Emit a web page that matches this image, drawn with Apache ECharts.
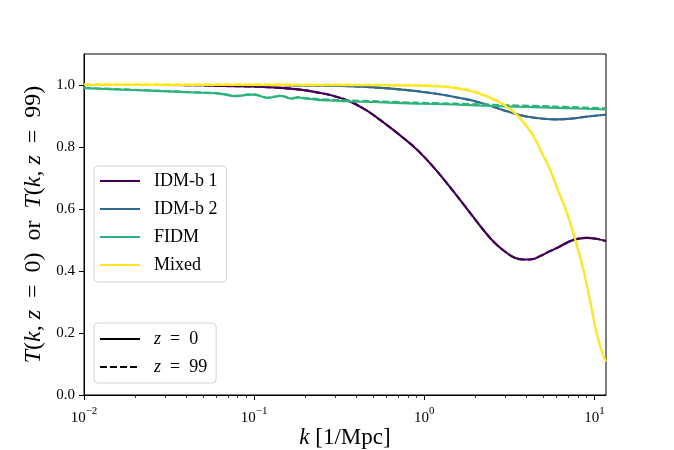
<!DOCTYPE html>
<html>
<head>
<meta charset="utf-8">
<script src="https://cdn.jsdelivr.net/npm/echarts@6/dist/echarts.min.js"></script>
<style>html,body{margin:0;padding:0;background:#fff}#c{width:674px;height:450px}</style>
</head>
<body>
<div id="c"></div>
<script>
// ---- data ----
const kIdm1 = [0.01, 0.03, 0.048, 0.066, 0.095, 0.12, 0.15, 0.186, 0.23, 0.292, 0.366, 0.458, 0.57, 0.716, 0.9, 1.13, 1.41, 1.77, 2.22, 2.6, 3.04, 3.4, 3.82, 4.3, 4.79, 5.49, 6.2, 6.88, 7.7, 9.0, 10.2, 11.7];
const tIdm1 = [1.0, 1.0, 0.999, 0.997, 0.995, 0.993, 0.990, 0.985, 0.977, 0.965, 0.947, 0.918, 0.881, 0.839, 0.793, 0.736, 0.672, 0.603, 0.533, 0.490, 0.459, 0.443, 0.437, 0.438, 0.448, 0.464, 0.478, 0.491, 0.502, 0.507, 0.504, 0.497];
const tIdm1z99 = [1.0, 1.0, 0.999, 0.997, 0.995, 0.993, 0.990, 0.985, 0.977, 0.965, 0.947, 0.918, 0.881, 0.839, 0.793, 0.736, 0.672, 0.603, 0.533, 0.490, 0.459, 0.443, 0.437, 0.438, 0.448, 0.464, 0.478, 0.491, 0.502, 0.507, 0.504, 0.497];

const kIdm2 = [0.01, 0.05, 0.15, 0.32, 0.48, 0.72, 0.94, 1.23, 1.62, 1.94, 2.44, 3.07, 3.85, 4.84, 6.08, 7.46, 9.4, 11.7];
const tIdm2 = [1.0, 1.0, 0.999, 0.997, 0.993, 0.986, 0.979, 0.970, 0.958, 0.949, 0.933, 0.915, 0.900, 0.892, 0.889, 0.892, 0.899, 0.904];
const tIdm2z99 = [1.0, 1.0, 0.999, 0.997, 0.993, 0.986, 0.979, 0.970, 0.958, 0.949, 0.933, 0.915, 0.900, 0.892, 0.889, 0.892, 0.899, 0.904];

const kFidm = [0.01, 0.015, 0.024, 0.039, 0.05, 0.06, 0.068, 0.076, 0.083, 0.09, 0.1, 0.106, 0.113, 0.12, 0.127, 0.135, 0.143, 0.15, 0.158, 0.166, 0.174, 0.182, 0.19, 0.2, 0.213, 0.234, 0.3, 0.37, 0.5, 0.9, 1.5, 2.25, 3.5, 5.5, 8, 11.7];
const tFidm = [0.990, 0.986, 0.982, 0.977, 0.975, 0.973, 0.969, 0.964, 0.965, 0.968, 0.969, 0.966, 0.961, 0.958, 0.960, 0.963, 0.965, 0.963, 0.958, 0.956, 0.958, 0.960, 0.958, 0.956, 0.955, 0.952, 0.949, 0.947, 0.945, 0.940, 0.937, 0.933, 0.930, 0.927, 0.924, 0.921];
const tFidmz99 = [0.991, 0.987, 0.983, 0.978, 0.976, 0.974, 0.970, 0.965, 0.966, 0.969, 0.970, 0.967, 0.962, 0.959, 0.961, 0.964, 0.966, 0.964, 0.959, 0.957, 0.959, 0.961, 0.959, 0.958, 0.957, 0.955, 0.952, 0.950, 0.948, 0.943, 0.940, 0.937, 0.934, 0.931, 0.928, 0.925];

const kMixed = [0.01, 0.1, 0.5, 0.9, 1.23, 1.42, 1.78, 1.94, 2.25, 2.44, 2.81, 3.05, 3.52, 4.0, 4.38, 4.9, 5.5, 6.1, 6.88, 7.7, 8.6, 9.4, 10.3, 11.3, 11.7];
const tMixed = [1.0, 1.0, 0.999, 0.998, 0.995, 0.992, 0.983, 0.978, 0.966, 0.958, 0.942, 0.929, 0.902, 0.866, 0.835, 0.782, 0.725, 0.661, 0.588, 0.502, 0.405, 0.307, 0.200, 0.124, 0.108];
const tMixedz99 = [1.002, 1.002, 1.001, 1.0, 0.997, 0.994, 0.985, 0.980, 0.968, 0.960, 0.944, 0.931, 0.904, 0.868, 0.837, 0.784, 0.727, 0.663, 0.590, 0.504, 0.407, 0.309, 0.202, 0.126, 0.110];

const modelNames = ['IDM-b 1', 'IDM-b 2', 'FIDM', 'Mixed'];
const zNames = ['z = 0', 'z = 99'];
const xMajorExp = [-2, -1, 0, 1];
const xMinorK = [0.02,0.03,0.04,0.05,0.06,0.07,0.08,0.09,0.2,0.3,0.4,0.5,0.6,0.7,0.8,0.9,2,3,4,5,6,7,8,9];
const yTicks = [0, 0.2, 0.4, 0.6, 0.8, 1.0];

// ---- chart ----
const colors = ['#440154', '#31688e', '#2db27d', '#fde725'];
const FONT = 'Liberation Serif';
const EN = '\u2002';
const pairs = (k, t) => k.map((v, i) => [v, t[i]]);
const XMIN = 0.01, XMAX = 11.7;

const sets = [
  [kIdm1, tIdm1, tIdm1z99],
  [kIdm2, tIdm2, tIdm2z99],
  [kFidm, tFidm, tFidmz99],
  [kMixed, tMixed, tMixedz99]
];
const series = [];
sets.forEach((s, i) => {
  const sm = i === 2 ? 0.15 : 0.4;
  series.push({
    name: modelNames[i], type: 'line', xAxisIndex: 0, yAxisIndex: 0,
    data: pairs(s[0], s[1]), showSymbol: false, symbol: 'none', smooth: sm,
    lineStyle: { color: colors[i], width: 2.1 }, itemStyle: { color: colors[i] }, z: 2 + i * 2
  });
  series.push({
    name: modelNames[i] + ' z99', type: 'line', xAxisIndex: 0, yAxisIndex: 0,
    data: pairs(s[0], s[2]), showSymbol: false, symbol: 'none', smooth: sm,
    lineStyle: { color: colors[i], width: 2.1, type: [7, 3] }, itemStyle: { color: colors[i] }, z: 3 + i * 2
  });
});
series.push({ name: zNames[0], type: 'line', data: [], symbol: 'none', lineStyle: { color: '#000', width: 2 }, itemStyle: { color: '#000' } });
series.push({ name: zNames[1], type: 'line', data: [], symbol: 'none', lineStyle: { color: '#000', width: 2, type: [7, 3] }, itemStyle: { color: '#000' } });

const chart = echarts.init(document.getElementById('c'), null, { renderer: 'canvas' });
const legendBase = {
  orient: 'vertical', left: 94, itemWidth: 40, itemHeight: 14, itemGap: 10,
  backgroundColor: '#fff', borderColor: '#d4d4d4', borderWidth: 1, borderRadius: 4,
  itemStyle: { opacity: 0 },
  textStyle: { fontFamily: FONT, fontSize: 18, color: '#000', lineHeight: 18, padding: [0, 0, 0, 9],
    rich: { i: { fontFamily: FONT, fontStyle: 'italic', fontSize: 18, lineHeight: 18 }, r: { fontFamily: FONT, fontSize: 18, lineHeight: 18 } } },
  selectedMode: false
};
chart.setOption({
  animation: false,
  backgroundColor: '#fff',
  grid: { left: 84, right: 68, top: 54, bottom: 55, show: true, borderColor: '#000', borderWidth: 1, backgroundColor: 'transparent',
    containLabel: false, outerBoundsMode: 'none' },
  legend: [
    Object.assign({}, legendBase, { top: 166, padding: [6, 9, 8, 5], data: modelNames }),
    Object.assign({}, legendBase, { top: 323, padding: [7, 9, 7, 5], data: zNames,
      formatter: n => n === 'z = 0' ? '{i|z}{r|' + EN + '=' + EN + '0}' : '{i|z}{r|' + EN + '=' + EN + '99}' })
  ],
  xAxis: [
    { type: 'log', logBase: 10, min: XMIN, max: XMAX, position: 'bottom',
      axisLine: { show: true, onZero: false, lineStyle: { color: '#000', width: 1 } },
      axisTick: { show: false }, axisLabel: { show: false }, splitLine: { show: false }, minorTick: { show: false },
      name: '{i|k}{r| [1/Mpc]}', nameLocation: 'middle', nameGap: 31,
      nameTextStyle: { fontFamily: FONT, fontSize: 23, color: '#000',
        rich: { i: { fontFamily: FONT, fontStyle: 'italic', fontSize: 23 }, r: { fontFamily: FONT, fontSize: 23 } } } },
    { type: 'value', min: -2, max: Math.log10(XMAX), position: 'bottom', offset: 0,
      axisLine: { show: false, onZero: false }, splitLine: { show: false },
      axisTick: { show: true, length: 5, lineStyle: { color: '#000', width: 1 }, customValues: xMajorExp },
      axisLabel: { show: true, margin: 11, customValues: xMajorExp, color: '#000',
        formatter: v => '{b|10}{s|' + (v < 0 ? '\u2212' + (-v) : v) + '}',
        rich: { b: { fontFamily: FONT, fontSize: 15, lineHeight: 20, verticalAlign: 'bottom', color: '#000' },
                s: { fontFamily: FONT, fontSize: 11, lineHeight: 12, verticalAlign: 'top', color: '#000' } } } },
    { type: 'value', min: -2, max: Math.log10(XMAX), position: 'bottom', offset: 0,
      axisLine: { show: false, onZero: false }, splitLine: { show: false }, axisLabel: { show: false },
      axisTick: { show: true, length: 3, lineStyle: { color: '#000', width: 0.8 }, customValues: xMinorK.map(Math.log10) } }
  ],
  yAxis: [{
    type: 'value', min: 0, max: 1.1, position: 'left',
    axisLine: { show: true, onZero: false, lineStyle: { color: '#000', width: 1 } },
    axisTick: { show: true, length: 5, lineStyle: { color: '#000' }, customValues: yTicks },
    axisLabel: { customValues: yTicks, formatter: v => v.toFixed(1), fontFamily: FONT, fontSize: 15, color: '#000', margin: 9 },
    splitLine: { show: false },
    name: '{i|T}{r|(}{i|k}{r|, }{i|z}{r|' + EN + '=' + EN + '0)' + EN + 'or' + EN + '}{i|T}{r|(}{i|k}{r|, }{i|z}{r|' + EN + '=' + EN + '99)}',
    nameLocation: 'middle', nameRotate: 90, nameGap: 27,
    nameTextStyle: { fontFamily: FONT, fontSize: 24, color: '#000',
      rich: { i: { fontFamily: FONT, fontStyle: 'italic', fontSize: 24 }, r: { fontFamily: FONT, fontSize: 24 } } }
  }],
  series: series
});
</script>
</body>
</html>
